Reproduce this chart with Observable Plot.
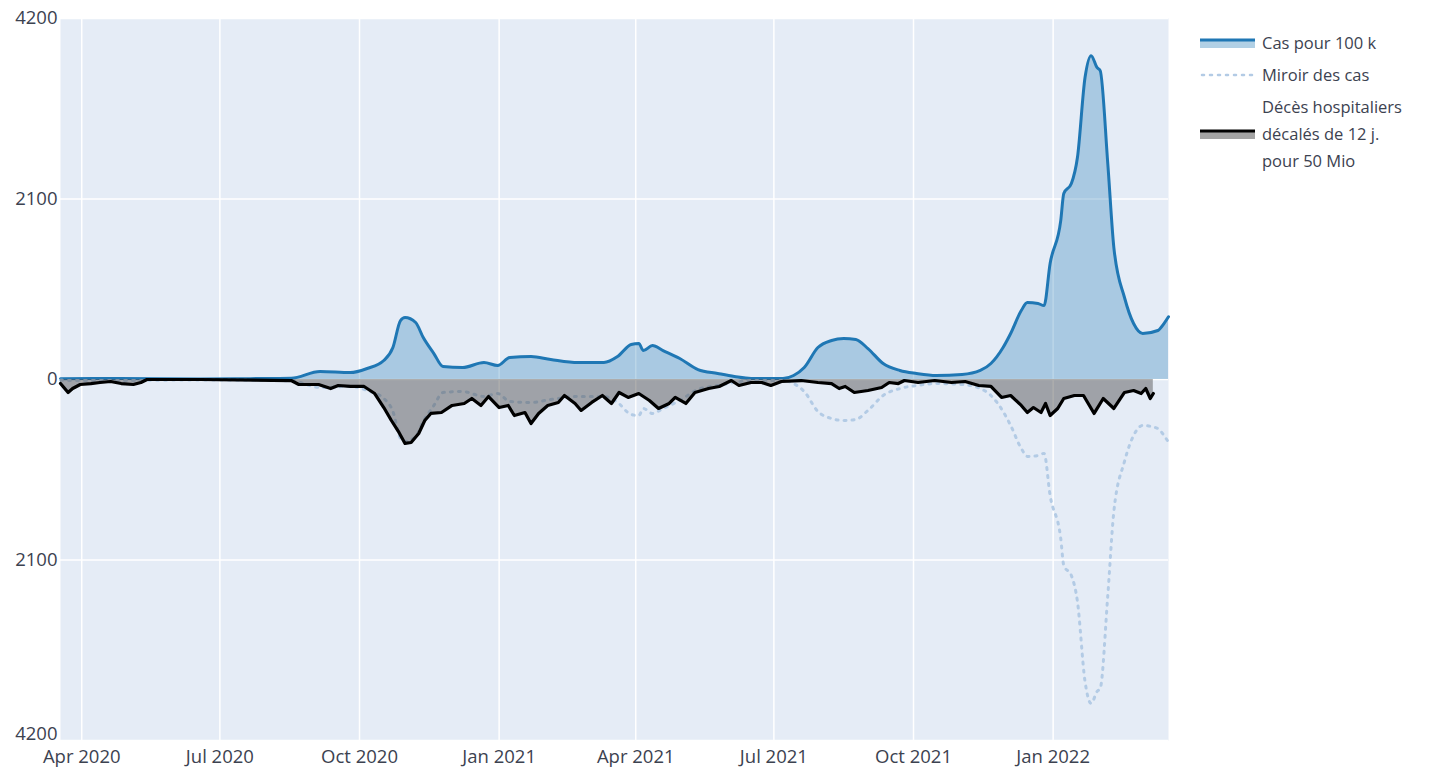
<!DOCTYPE html>
<html>
<head>
<meta charset="utf-8">
<script src="https://cdn.jsdelivr.net/npm/d3@7"></script>
<script src="https://cdn.jsdelivr.net/npm/@observablehq/plot@0.6"></script>
<style>
  html, body { margin: 0; padding: 0; background: #fff; }
  #wrap { position: relative; width: 1443px; height: 768px; font-family: "Open Sans", sans-serif; }
  #legend { position: absolute; left: 1200px; top: 29px; color: #3c4250; font-size: 16.5px; line-height: 27px; }
  .item { display: flex; align-items: center; margin-bottom: 5px; }
  .item svg { flex: none; margin-right: 7px; }
</style>
</head>
<body>
<div id="wrap"><div id="legend"></div></div>
<script>
// Cas pour 100 k (14-day incidence) — dates and values
const caseDates = ["2020-03-18","2020-04-26","2020-06-18","2020-07-21","2020-08-17","2020-09-05","2020-09-25","2020-10-06","2020-10-17","2020-10-23","2020-10-28","2020-10-31","2020-11-07","2020-11-12","2020-11-19","2020-11-25","2020-12-08","2020-12-22","2020-12-31","2021-01-08","2021-01-22","2021-02-04","2021-02-22","2021-03-11","2021-03-20","2021-03-29","2021-04-03","2021-04-06","2021-04-12","2021-04-19","2021-04-30","2021-05-12","2021-05-25","2021-06-05","2021-06-16","2021-07-07","2021-07-14","2021-07-21","2021-07-30","2021-08-08","2021-08-16","2021-08-24","2021-09-01","2021-09-11","2021-09-22","2021-10-03","2021-10-16","2021-11-02","2021-11-14","2021-11-21","2021-11-29","2021-12-04","2021-12-11","2021-12-15","2021-12-22","2021-12-26","2021-12-30","2022-01-06","2022-01-08","2022-01-13","2022-01-17","2022-01-22","2022-01-26","2022-01-30","2022-02-01","2022-02-06","2022-02-10","2022-02-17","2022-02-23","2022-03-01","2022-03-11","2022-03-15","2022-03-18"];
const caseValues = [10,12,5,10,15,93,80,128,221,372,686,721,663,488,302,151,140,198,163,256,267,233,198,198,267,407,419,337,395,337,244,116,70,35,12,12,47,140,372,454,477,465,360,186,105,70,47,58,105,186,372,535,802,895,884,860,1349,1849,2163,2280,2582,3513,3768,3628,3594,2512,1535,954,651,535,570,651,730];

// Décès hospitaliers décalés de 12 j. pour 50 Mio (drawn downward)
const deathDates = ["2020-03-18","2020-03-23","2020-03-26","2020-03-31","2020-04-07","2020-04-13","2020-04-20","2020-04-27","2020-05-05","2020-05-10","2020-05-14","2020-06-18","2020-08-17","2020-08-22","2020-09-04","2020-09-12","2020-09-17","2020-09-25","2020-10-04","2020-10-11","2020-10-17","2020-10-22","2020-10-27","2020-10-31","2020-11-04","2020-11-09","2020-11-13","2020-11-17","2020-11-24","2020-12-01","2020-12-09","2020-12-14","2020-12-20","2020-12-25","2021-01-01","2021-01-07","2021-01-11","2021-01-18","2021-01-22","2021-01-27","2021-02-02","2021-02-09","2021-02-13","2021-02-20","2021-02-24","2021-03-03","2021-03-10","2021-03-16","2021-03-21","2021-03-27","2021-04-03","2021-04-10","2021-04-16","2021-04-23","2021-04-27","2021-05-04","2021-05-10","2021-05-19","2021-05-26","2021-06-03","2021-06-08","2021-06-16","2021-06-23","2021-06-29","2021-07-06","2021-07-19","2021-07-30","2021-08-08","2021-08-13","2021-08-17","2021-08-23","2021-09-01","2021-09-10","2021-09-15","2021-09-21","2021-09-25","2021-10-04","2021-10-15","2021-10-26","2021-11-04","2021-11-13","2021-11-21","2021-11-28","2021-12-04","2021-12-11","2021-12-15","2021-12-19","2021-12-24","2021-12-27","2021-12-30","2022-01-04","2022-01-08","2022-01-15","2022-01-21","2022-01-28","2022-02-03","2022-02-10","2022-02-17","2022-02-23","2022-02-28","2022-03-03","2022-03-06","2022-03-08"];
const deathValues = [47,151,105,58,47,35,23,47,58,35,0,0,12,58,58,105,70,81,81,163,326,477,616,744,733,628,477,395,384,302,279,221,302,198,326,302,419,384,512,395,302,267,186,279,360,267,186,279,151,209,163,244,337,279,209,279,151,105,81,12,70,35,35,70,23,12,35,47,105,81,151,128,93,35,47,12,35,12,35,23,70,81,209,186,302,384,326,384,279,419,337,221,186,186,395,221,337,151,128,163,105,221,163];

// Axis ticks
const yTicks = [-4200, -2100, 0, 2100, 4200];
const xTickDates = ["2020-04-01","2020-07-01","2020-10-01","2021-01-01","2021-04-01","2021-07-01","2021-10-01","2022-01-01"];
const xDomain = ["2020-03-18","2022-03-18"];

// Legend labels
const legendLabels = ["Cas pour 100 k", "Miroir des cas", "Décès hospitaliers<br>décalés de 12 j.<br>pour 50 Mio"];

const cases = caseDates.map((d, i) => ({date: new Date(d), value: caseValues[i]}));
const mirror = caseDates.map((d, i) => ({date: new Date(d), value: -caseValues[i]}));
const deaths = deathDates.map((d, i) => ({date: new Date(d), value: -deathValues[i]}));
const xt = xTickDates.map(d => new Date(d));

const blue = "#1f77b4";
const mirrorColor = "#b3cbe5";
const yFmt = d => String(Math.abs(d));
const chart = Plot.plot({
  width: 1443,
  height: 768,
  marginLeft: 60,
  marginRight: 275,
  marginTop: 18,
  marginBottom: 28,
  style: {fontFamily: "Open Sans, sans-serif", background: "transparent", color: "#3c4250"},
  x: {type: "utc", domain: xDomain.map(d => new Date(d))},
  y: {domain: [-4200, 4200]},
  marks: [
    Plot.frame({fill: "#E5ECF6", stroke: null}),
    Plot.ruleX(xt, {stroke: "white", strokeWidth: 1.5}),
    Plot.ruleY(yTicks, {stroke: "white", strokeWidth: 1.5}),
    Plot.areaY(cases, {x: "date", y: "value", fill: blue, fillOpacity: 0.3, curve: "monotone-x"}),
    Plot.lineY(cases, {x: "date", y: "value", stroke: blue, strokeWidth: 3, curve: "monotone-x"}),
    Plot.lineY(mirror, {x: "date", y: "value", stroke: mirrorColor, strokeWidth: 3, strokeDasharray: "2,6", strokeLinecap: "round", curve: "monotone-x"}),
    Plot.areaY(deaths, {x: "date", y: "value", fill: "#4a4a4a", fillOpacity: 0.45}),
    Plot.lineY(deaths, {x: "date", y: "value", stroke: "black", strokeWidth: 3.2, strokeLinejoin: "round"}),
    Plot.axisX({ticks: xt, tickFormat: d3.utcFormat("%b %Y"), tickSize: 0, tickPadding: 9, fontSize: 18.5, label: null}),
    Plot.axisY({ticks: yTicks.slice(1), tickFormat: yFmt, tickSize: 0, tickPadding: 3, fontSize: 18.5, label: null}),
    Plot.axisY({ticks: yTicks.slice(0, 1), tickFormat: yFmt, tickSize: 0, tickPadding: 3, fontSize: 18.5, dy: -6, label: null})
  ]
});
document.getElementById("wrap").prepend(chart);

const sw = (kind) => {
  if (kind === 0) return `<svg width="55" height="14"><rect x="0" y="3" width="55" height="9" fill="${blue}" fill-opacity="0.35"/><line x1="0" x2="55" y1="4" y2="4" stroke="${blue}" stroke-width="3"/></svg>`;
  if (kind === 1) return `<svg width="55" height="14"><line x1="2" x2="55" y1="7" y2="7" stroke="${mirrorColor}" stroke-width="2.5" stroke-dasharray="2,6" stroke-linecap="round"/></svg>`;
  return `<svg width="55" height="14"><rect x="0" y="3" width="55" height="9" fill="#4a4a4a" fill-opacity="0.5"/><line x1="0" x2="55" y1="4" y2="4" stroke="black" stroke-width="3"/></svg>`;
};
document.getElementById("legend").innerHTML = legendLabels.map((l, i) =>
  `<div class="item">${sw(i)}<div>${l}</div></div>`).join("");
</script>
</body>
</html>
